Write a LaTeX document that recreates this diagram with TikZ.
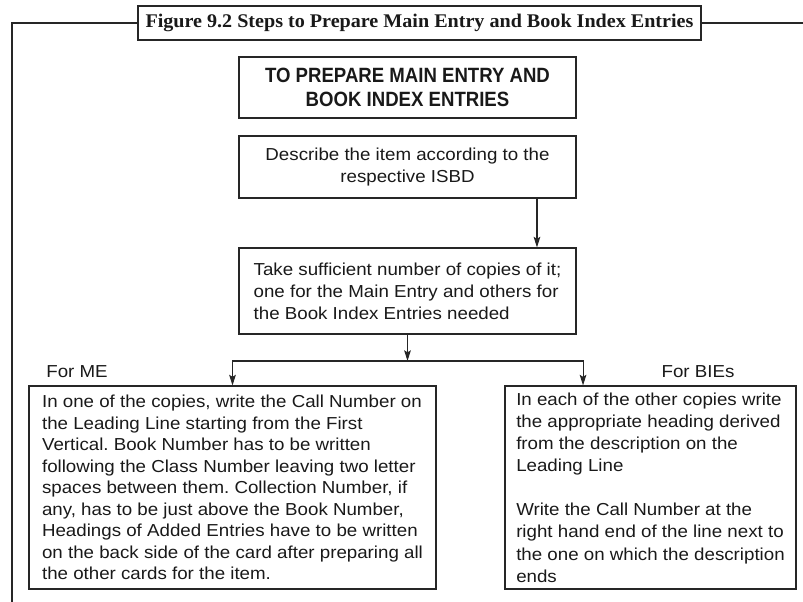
\documentclass[tikz,border=0pt]{standalone}
\usepackage{fontspec}
\setmainfont{Liberation Sans}[FakeStretch=1.08]
\newfontfamily\headfont{Liberation Sans}[FakeStretch=0.9]
\newfontfamily\titlefont{Liberation Serif}[FakeStretch=1.04]
\usetikzlibrary{arrows.meta,positioning}
\frenchspacing

\begin{document}
\begin{tikzpicture}[x=0.75pt, y=-0.75pt, line width=0.8pt, >={Stealth[length=8pt,width=5pt,inset=1.5pt]},
  every node/.style={draw=black!85, line width=0.8pt, rectangle, text=black!90, inner sep=0pt,
    font=\fontsize{13pt}{16.1pt}\selectfont}]

\useasboundingbox (0,0) rectangle (803,602);

% Title and frame
\node[minimum width=422.25pt, minimum height=25.5pt, font=\titlefont\bfseries\fontsize{14.5pt}{16pt}\selectfont] (title) at (419.5,23) {Figure 9.2 Steps to Prepare Main Entry and Book Index Entries};
\coordinate (frame) at (12,602);
\draw[black!85] (frame) |- (title.west);
\draw[black!85] (title.east) -- (803,23);

% Steps
\node[minimum width=252.75pt, minimum height=45.75pt, align=center, font=\headfont\bfseries\fontsize{15.5pt}{18pt}\selectfont] (prep) at (407.5,87.5) {TO PREPARE MAIN ENTRY AND\\BOOK INDEX ENTRIES};
\node[minimum width=252.75pt, minimum height=46.5pt, align=center, font=\fontsize{13pt}{16.5pt}\selectfont] (describe) at (407.5,167) {Describe the item according to the\\respective ISBD};
\node[minimum width=252.75pt, minimum height=64.5pt, align=left, font=\fontsize{13pt}{16.5pt}\selectfont] (copies) at (407.5,291) {Take sufficient number of copies of it;\\one for the Main Entry and others for\\the Book Index Entries needed};

% Entries
\node[minimum width=305.25pt, minimum height=152.25pt, align=left] (me) at (232.5,487.5) {In one of the copies, write the Call Number on\\the Leading Line starting from the First\\Vertical. Book Number has to be written\\following the Class Number leaving two letter\\spaces between them. Collection Number, if\\any, has to be just above the Book Number,\\Headings of Added Entries have to be written\\on the back side of the card after preparing all\\the other cards for the item.};
\node[minimum width=218.25pt, minimum height=152.25pt, align=left, font=\fontsize{13pt}{16.6pt}\selectfont] (bie) at (650.5,487.5) {In each of the other copies write\\the appropriate heading derived\\from the description on the\\Leading Line\\[16.6pt]Write the Call Number at the\\right hand end of the line next to\\the one on which the description\\ends};

% Labels
\node[draw=none] (forme) at (77,372) {For ME};
\node[draw=none] (forbie) at (698,372) {For BIEs};

% Connections
\coordinate (split) at (407.5,361);
\draw[->, black!85] ([xshift=97.1pt]describe.south) -- ([xshift=97.1pt]copies.north);
\draw[->, black!85] (copies.south) -- (split);
\draw[->, black!85] (split) -| (me.north);
\draw[->, black!85] (split) -| ([xshift=-50.6pt]bie.north);

\end{tikzpicture}
\end{document}
